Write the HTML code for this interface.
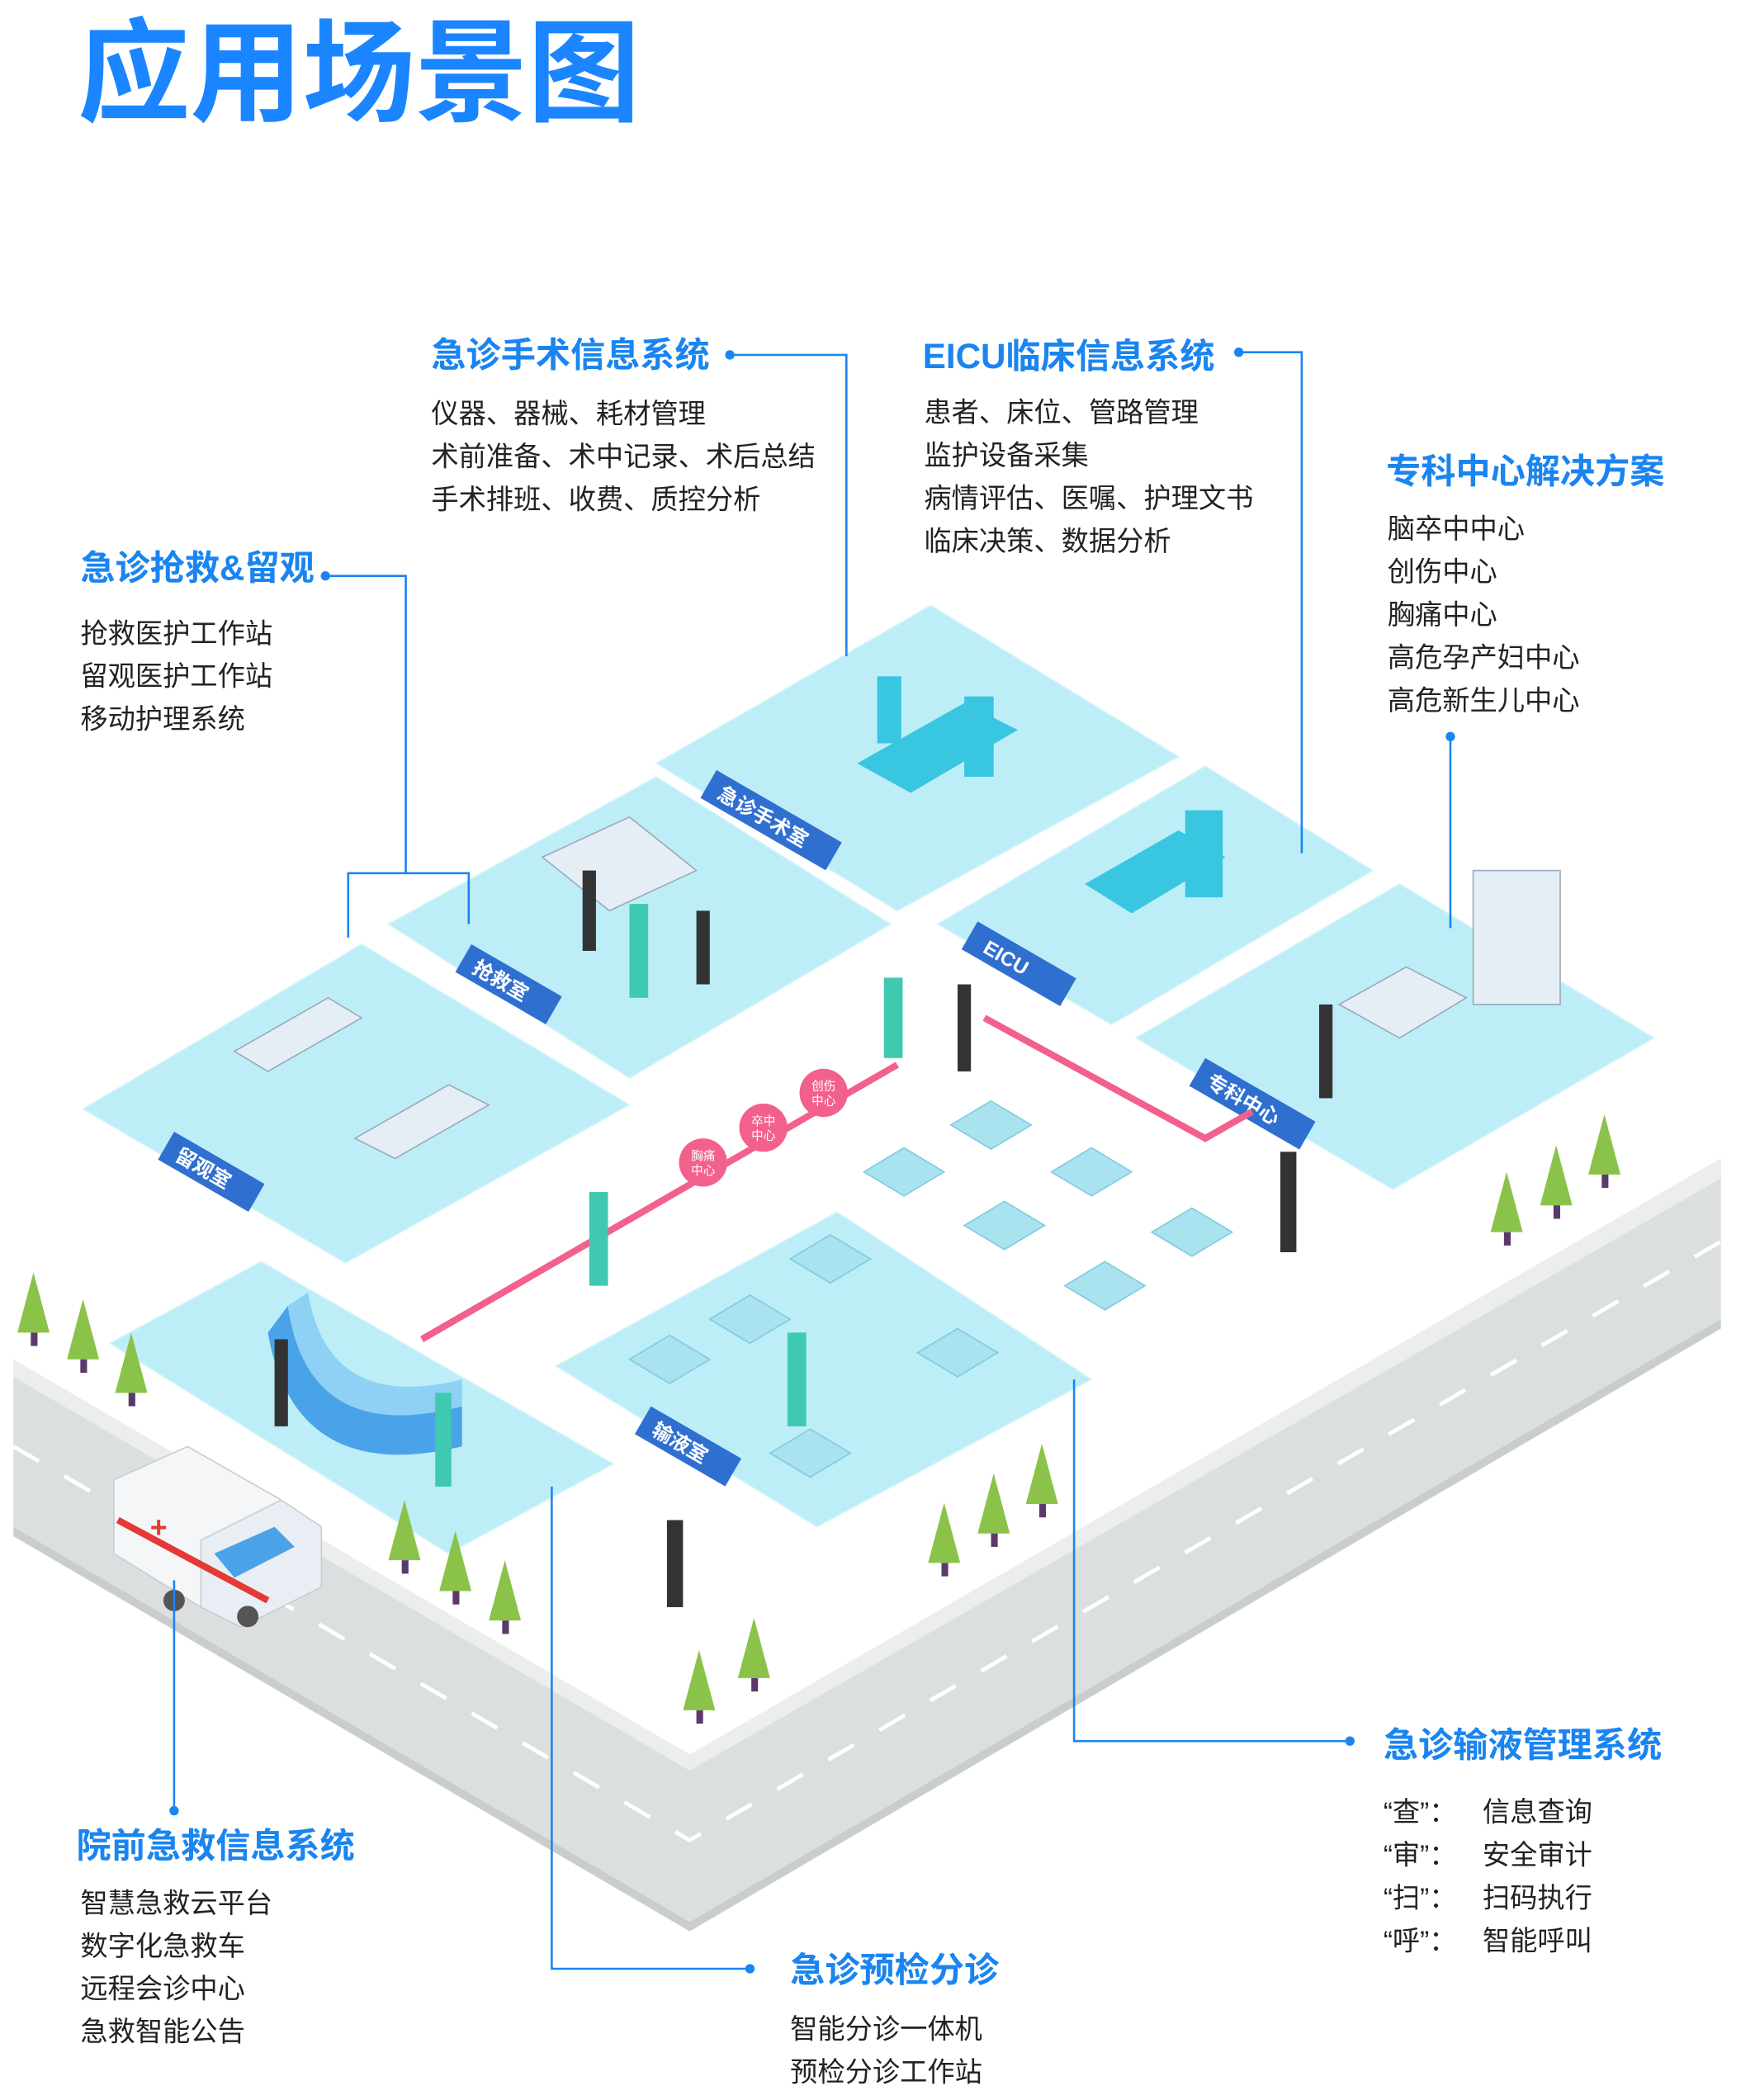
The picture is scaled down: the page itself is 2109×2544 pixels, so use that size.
<!DOCTYPE html>
<html><head><meta charset="utf-8"><style>
html,body{margin:0;padding:0;background:#fff;}
svg{display:block;}
text{font-family:"Liberation Sans","Noto Sans CJK SC",sans-serif;}
.h{fill:#1a85f0;font-weight:bold;font-size:26px;}
.b{fill:#222;font-size:20.5px;}
.ln{stroke:#1a85f0;stroke-width:1.6;fill:none;}
.room{fill:#bdeef8;stroke:#d6f4fa;stroke-width:1;}
.tag{fill:#2f6fd0;}
.tt{fill:#fff;font-size:15px;font-weight:bold;}
.pc{fill:#f2618c;}
.pt{fill:#fff;font-size:9px;}
.ch{fill:#a9e3f0;stroke:#7fcbe0;stroke-width:1;}
</style></head><body>
<svg width="2109" height="2544" viewBox="0 0 1300 1568" preserveAspectRatio="none" xmlns="http://www.w3.org/2000/svg">
<rect width="1300" height="1568" fill="#fff"/>
<text x="58" y="84" style="font-size:84px;font-weight:bold;fill:#1a85ff;">应用场景图</text>

<polygon points="10,1015 515,1310 1285,865 1285,985 515,1435 10,1140" fill="#dcdfdf"/>
<polygon points="10,1015 515,1310 1285,865 1285,880 515,1322 10,1028" fill="#eceeee"/>
<polyline points="10,1080 515,1374 1285,927" fill="none" stroke="#fff" stroke-width="3" stroke-dasharray="22,22"/>
<polygon points="10,1140 515,1435 1285,985 1285,992 515,1442 10,1147" fill="#c9cdcd"/>

<polygon class="room" points="490,570 695,452 880,565 670,680"/>
<polygon class="room" points="290,690 490,580 665,690 470,805"/>
<polygon class="room" points="700,690 900,572 1025,650 830,765"/>
<polygon class="room" points="848,775 1045,660 1235,775 1040,888"/>
<polygon class="room" points="62,828 270,705 470,825 258,943"/>
<polygon class="room" points="82,1003 195,942 458,1093 335,1160"/>
<polygon class="room" points="415,1020 625,905 815,1030 610,1140"/>

<g transform="translate(535,575) rotate(30)"><rect class="tag" x="0" y="0" width="108" height="24"/><text class="tt" x="10" y="18">急诊手术室</text></g>
<g transform="translate(352,705) rotate(30)"><rect class="tag" x="0" y="0" width="78" height="24"/><text class="tt" x="10" y="18">抢救室</text></g>
<g transform="translate(730,688) rotate(30)"><rect class="tag" x="0" y="0" width="85" height="24"/><text class="tt" x="14" y="18">EICU</text></g>
<g transform="translate(900,790) rotate(30)"><rect class="tag" x="0" y="0" width="95" height="24"/><text class="tt" x="10" y="18">专科中心</text></g>
<g transform="translate(130,845) rotate(30)"><rect class="tag" x="0" y="0" width="78" height="24"/><text class="tt" x="10" y="18">留观室</text></g>
<g transform="translate(486,1050) rotate(30)"><rect class="tag" x="0" y="0" width="78" height="24"/><text class="tt" x="10" y="18">输液室</text></g>

<path d="M215,975 Q230,1080 345,1050 L345,1080 Q220,1110 200,995 Z" fill="#4aa3e8"/>
<path d="M230,965 Q245,1055 345,1030 L345,1050 Q230,1080 215,975 Z" fill="#8fd0f5"/>

<polyline points="315,1000 670,795" fill="none" stroke="#f2618c" stroke-width="5"/>
<polyline points="735,760 900,850 935,830" fill="none" stroke="#f2618c" stroke-width="5"/>
<circle class="pc" cx="525" cy="868" r="18"/><text class="pt" x="516" y="866">胸痛</text><text class="pt" x="516" y="877">中心</text>
<circle class="pc" cx="570" cy="842" r="18"/><text class="pt" x="561" y="840">卒中</text><text class="pt" x="561" y="851">中心</text>
<circle class="pc" cx="615" cy="816" r="18"/><text class="pt" x="606" y="814">创伤</text><text class="pt" x="606" y="825">中心</text>

<g fill="#39c6e0"><polygon points="640,570 720,525 760,545 680,592"/><rect x="655" y="505" width="18" height="50"/><rect x="720" y="520" width="22" height="60"/></g>
<g fill="#39c6e0"><polygon points="810,660 880,620 915,640 845,682"/><rect x="885" y="605" width="28" height="65"/></g>
<g fill="#e6eef5" stroke="#9ab" stroke-width="1"><polygon points="405,640 470,610 520,650 455,680"/><polygon points="175,785 245,745 270,760 200,800"/><polygon points="265,850 335,810 365,825 295,865"/><polygon points="1000,750 1050,722 1095,745 1045,775"/><rect x="1100" y="650" width="65" height="100"/></g>
<g fill="#333"><rect x="435" y="650" width="10" height="60"/><rect x="520" y="680" width="10" height="55"/><rect x="715" y="735" width="10" height="65"/><rect x="985" y="750" width="10" height="70"/><rect x="498" y="1135" width="12" height="65"/><rect x="956" y="860" width="12" height="75"/><rect x="205" y="1000" width="10" height="65"/></g>
<g fill="#3ec9b0"><rect x="470" y="675" width="14" height="70"/><rect x="440" y="890" width="14" height="70"/><rect x="325" y="1040" width="12" height="70"/><rect x="588" y="995" width="14" height="70"/><rect x="660" y="730" width="14" height="60"/></g>

<g class="ch">
<polygon points="710,840 740,822 770,840 740,858"/><polygon points="645,875 675,857 705,875 675,893"/><polygon points="785,875 815,857 845,875 815,893"/>
<polygon points="720,915 750,897 780,915 750,933"/><polygon points="860,920 890,902 920,920 890,938"/><polygon points="795,960 825,942 855,960 825,978"/>
<polygon points="590,940 620,922 650,940 620,958"/><polygon points="530,985 560,967 590,985 560,1003"/><polygon points="470,1015 500,997 530,1015 500,1033"/>
<polygon points="685,1010 715,992 745,1010 715,1028"/><polygon points="575,1085 605,1067 635,1085 605,1103"/>
</g>

<g>
<polygon points="85,1105 140,1080 210,1120 210,1170 150,1200 85,1160" fill="#f4f6f8" stroke="#c8cdd2"/>
<polygon points="150,1150 210,1120 240,1140 240,1185 180,1215 150,1200" fill="#e8eef4" stroke="#c8cdd2"/>
<polygon points="160,1160 205,1140 220,1155 175,1178" fill="#4aa3e8"/>
<line x1="88" y1="1135" x2="200" y2="1195" stroke="#e53935" stroke-width="5"/>
<text x="112" y="1148" fill="#e53935" style="font-size:22px;font-weight:bold;">+</text>
<circle cx="130" cy="1195" r="8" fill="#555"/><circle cx="185" cy="1207" r="8" fill="#555"/>
</g>

<g fill="#8bc34a">
<polygon points="25,950 13,995 37,995"/><polygon points="62,970 50,1015 74,1015"/><polygon points="98,995 86,1040 110,1040"/>
<polygon points="302,1120 290,1165 314,1165"/><polygon points="340,1143 328,1188 352,1188"/><polygon points="377,1165 365,1210 389,1210"/>
<polygon points="522,1232 510,1277 534,1277"/><polygon points="563,1208 551,1253 575,1253"/>
<polygon points="705,1122 693,1167 717,1167"/><polygon points="742,1100 730,1145 754,1145"/><polygon points="778,1078 766,1123 790,1123"/>
<polygon points="1125,875 1113,920 1137,920"/><polygon points="1162,855 1150,900 1174,900"/><polygon points="1198,832 1186,877 1210,877"/>
</g>
<g fill="#5b3a6b">
<rect x="23" y="995" width="5" height="10"/><rect x="60" y="1015" width="5" height="10"/><rect x="96" y="1040" width="5" height="10"/>
<rect x="300" y="1165" width="5" height="10"/><rect x="338" y="1188" width="5" height="10"/><rect x="375" y="1210" width="5" height="10"/>
<rect x="520" y="1277" width="5" height="10"/><rect x="561" y="1253" width="5" height="10"/>
<rect x="703" y="1167" width="5" height="10"/><rect x="740" y="1145" width="5" height="10"/><rect x="776" y="1123" width="5" height="10"/>
<rect x="1123" y="920" width="5" height="10"/><rect x="1160" y="900" width="5" height="10"/><rect x="1196" y="877" width="5" height="10"/>
</g>

<polyline class="ln" points="545,265 632,265 632,490"/><circle cx="545" cy="265" r="3.5" fill="#1a85f0"/>
<polyline class="ln" points="925,263 972,263 972,637"/><circle cx="925" cy="263" r="3.5" fill="#1a85f0"/>
<polyline class="ln" points="243,430 303,430 303,652"/><circle cx="243" cy="430" r="3.5" fill="#1a85f0"/>
<polyline class="ln" points="260,700 260,652 350,652 350,690"/>
<line class="ln" x1="1083" y1="550" x2="1083" y2="693"/><circle cx="1083" cy="550" r="3.5" fill="#1a85f0"/>
<line class="ln" x1="130" y1="1352" x2="130" y2="1180"/><circle cx="130" cy="1352" r="3.5" fill="#1a85f0"/>
<polyline class="ln" points="560,1470 412,1470 412,1110"/><circle cx="560" cy="1470" r="3.5" fill="#1a85f0"/>
<polyline class="ln" points="1008,1300 802,1300 802,1030"/><circle cx="1008" cy="1300" r="3.5" fill="#1a85f0"/>

<text class="h" x="322" y="274">急诊手术信息系统</text>
<text class="b" x="322" y="316">仪器、器械、耗材管理</text>
<text class="b" x="322" y="348">术前准备、术中记录、术后总结</text>
<text class="b" x="322" y="380">手术排班、收费、质控分析</text>

<text class="h" x="689" y="275">EICU临床信息系统</text>
<text class="b" x="690" y="315">患者、床位、管路管理</text>
<text class="b" x="690" y="347">监护设备采集</text>
<text class="b" x="690" y="379">病情评估、医嘱、护理文书</text>
<text class="b" x="690" y="411">临床决策、数据分析</text>

<text class="h" x="1035" y="361">专科中心解决方案</text>
<text class="b" x="1036" y="402">脑卒中中心</text>
<text class="b" x="1036" y="434">创伤中心</text>
<text class="b" x="1036" y="466">胸痛中心</text>
<text class="b" x="1036" y="498">高危孕产妇中心</text>
<text class="b" x="1036" y="530">高危新生儿中心</text>

<text class="h" x="60" y="433">急诊抢救&amp;留观</text>
<text class="b" x="60" y="480">抢救医护工作站</text>
<text class="b" x="60" y="512">留观医护工作站</text>
<text class="b" x="60" y="544">移动护理系统</text>

<text class="h" x="57" y="1387">院前急救信息系统</text>
<text class="b" x="60" y="1428">智慧急救云平台</text>
<text class="b" x="60" y="1460">数字化急救车</text>
<text class="b" x="60" y="1492">远程会诊中心</text>
<text class="b" x="60" y="1524">急救智能公告</text>

<text class="h" x="590" y="1480">急诊预检分诊</text>
<text class="b" x="590" y="1522">智能分诊一体机</text>
<text class="b" x="590" y="1554">预检分诊工作站</text>

<text class="h" x="1033" y="1312">急诊输液管理系统</text>
<g class="b">
<text class="b" x="1033" y="1360">“查”：</text><text class="b" x="1107" y="1360">信息查询</text>
<text class="b" x="1033" y="1392">“审”：</text><text class="b" x="1107" y="1392">安全审计</text>
<text class="b" x="1033" y="1424">“扫”：</text><text class="b" x="1107" y="1424">扫码执行</text>
<text class="b" x="1033" y="1456">“呼”：</text><text class="b" x="1107" y="1456">智能呼叫</text>
</g>
</svg>
</body></html>
